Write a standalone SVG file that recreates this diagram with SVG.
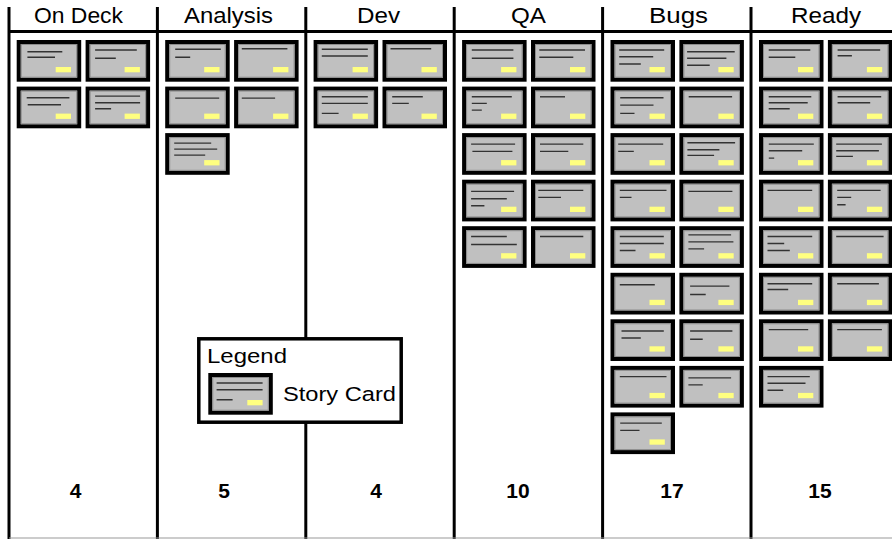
<svg xmlns="http://www.w3.org/2000/svg" xmlns:xlink="http://www.w3.org/1999/xlink" width="892" height="539" viewBox="0 0 892 539">
  <style>
    .rule { stroke: #000; stroke-width: 3; fill: none; }
    .head { font-family: "Liberation Sans", Arial, sans-serif; font-size: 21.5px; fill: #000; }
    .count { font-family: "Liberation Sans", Arial, sans-serif; font-size: 21px; font-weight: bold; fill: #000; text-anchor: middle; }
    .legend-text { font-family: "Liberation Sans", Arial, sans-serif; font-size: 20.5px; fill: #000; }
    .txt { stroke: #333; stroke-width: 1.4; fill: none; }
  </style>
  <defs>
    <!-- blank story card: black frame, grey face, yellow tag -->
    <g id="card-face">
      <rect x="2" y="2" width="60.5" height="37.7" fill="#c0c0c0" stroke="#000" stroke-width="4"/>
      <rect x="4.5" y="4.5" width="55.5" height="32.7" fill="#c0c0c0" stroke="#8c8c8c" stroke-width="1"/>
      <rect x="39" y="27" width="15.3" height="5.3" fill="#ffff80"/>
    </g>
  </defs>

  <rect width="892" height="539" fill="#fff"/>

  <!-- board columns -->
  <g id="board">
    <line class="rule" x1="8" y1="31.5" x2="892" y2="31.5"/>
    <line class="rule" x1="9" y1="7" x2="9" y2="539"/>
    <line class="rule" x1="157.4" y1="7" x2="157.4" y2="539"/>
    <line class="rule" x1="305.8" y1="7" x2="305.8" y2="539"/>
    <line class="rule" x1="454.2" y1="7" x2="454.2" y2="539"/>
    <line class="rule" x1="602.6" y1="7" x2="602.6" y2="539"/>
    <line class="rule" x1="751" y1="7" x2="751" y2="539"/>
    <line x1="9" y1="538" x2="892" y2="538" stroke="#999" stroke-width="1"/>
  </g>

  <g id="headers">
    <text class="head" x="34" y="23" textLength="89" lengthAdjust="spacingAndGlyphs">On Deck</text>
    <text class="head" x="184" y="23" textLength="89" lengthAdjust="spacingAndGlyphs">Analysis</text>
    <text class="head" x="357" y="23" textLength="43" lengthAdjust="spacingAndGlyphs">Dev</text>
    <text class="head" x="511" y="23" textLength="35" lengthAdjust="spacingAndGlyphs">QA</text>
    <text class="head" x="649" y="23" textLength="59" lengthAdjust="spacingAndGlyphs">Bugs</text>
    <text class="head" x="791" y="23" textLength="70" lengthAdjust="spacingAndGlyphs">Ready</text>
  </g>

  <g id="counts">
    <text class="count" x="75.5" y="498">4</text>
    <text class="count" x="224" y="498">5</text>
    <text class="count" x="376" y="498">4</text>
    <text class="count" x="518" y="498">10</text>
    <text class="count" x="672" y="498">17</text>
    <text class="count" x="820" y="498">15</text>
  </g>

  <!-- On Deck -->
  <g id="ondeck-1" transform="translate(16.7,40)"><use xlink:href="#card-face"/><path class="txt" d="M10.7 11.7H45.6M10.7 17.3H38.3"/></g>
  <g id="ondeck-2" transform="translate(85.6,40)"><use xlink:href="#card-face"/><path class="txt" d="M9.5 10H51.2M9.5 18.3H30.2"/></g>
  <g id="ondeck-3" transform="translate(16.7,86.6)"><use xlink:href="#card-face"/><path class="txt" d="M10 11.2H52.7M11 18.2H44.3"/></g>
  <g id="ondeck-4" transform="translate(85.6,86.6)"><use xlink:href="#card-face"/><path class="txt" d="M9.5 9.5H54.5M9.5 16.2H54.5M9.5 22.2H25.5"/></g>

  <!-- Analysis -->
  <g id="analysis-1" transform="translate(165.2,40)"><use xlink:href="#card-face"/><path class="txt" d="M10 9.3H55.6M10 17.3H25"/></g>
  <g id="analysis-2" transform="translate(234.1,40)"><use xlink:href="#card-face"/><path class="txt" d="M7.7 8.7H53.3"/></g>
  <g id="analysis-3" transform="translate(165.2,86.6)"><use xlink:href="#card-face"/><path class="txt" d="M10 11.5H54"/></g>
  <g id="analysis-4" transform="translate(234.1,86.6)"><use xlink:href="#card-face"/><path class="txt" d="M7.7 11.5H41"/></g>
  <g id="analysis-5" transform="translate(165.2,133.1)"><use xlink:href="#card-face"/><path class="txt" d="M9 10H46M9 16H52M9 22H40"/></g>

  <!-- Dev -->
  <g id="dev-1" transform="translate(313.6,40)"><use xlink:href="#card-face"/><path class="txt" d="M8.2 9.3H54.2M8.2 16H54.2"/></g>
  <g id="dev-2" transform="translate(382.5,40)"><use xlink:href="#card-face"/><path class="txt" d="M8 8.7H48.7"/></g>
  <g id="dev-3" transform="translate(313.6,86.6)"><use xlink:href="#card-face"/><path class="txt" d="M8.2 10.2H54.2M8.2 16.8H54.2M8.2 26.8H25"/></g>
  <g id="dev-4" transform="translate(382.5,86.6)"><use xlink:href="#card-face"/><path class="txt" d="M9.7 10.2H40.3M9.7 16.8H26.3"/></g>

  <!-- QA -->
  <g id="qa-1" transform="translate(462.1,40)"><use xlink:href="#card-face"/><path class="txt" d="M9.7 10H51.3M9.7 18.3H51.3"/></g>
  <g id="qa-2" transform="translate(531,40)"><use xlink:href="#card-face"/><path class="txt" d="M8.3 10H54M8.3 17.3H42.3"/></g>
  <g id="qa-3" transform="translate(462.1,86.6)"><use xlink:href="#card-face"/><path class="txt" d="M9.7 10.2H49.7M9.7 16.8H24.7M9.7 23.5H19.7"/></g>
  <g id="qa-4" transform="translate(531,86.6)"><use xlink:href="#card-face"/><path class="txt" d="M9 10.2H34"/></g>
  <g id="qa-5" transform="translate(462.1,133.1)"><use xlink:href="#card-face"/><path class="txt" d="M9 11H53M10.3 18.3H50.3"/></g>
  <g id="qa-6" transform="translate(531,133.1)"><use xlink:href="#card-face"/><path class="txt" d="M9 11H52.3M9 18.3H37.3"/></g>
  <g id="qa-7" transform="translate(462.1,179.7)"><use xlink:href="#card-face"/><path class="txt" d="M9 11.7H52M9 19H44.7M9 26H22.3"/></g>
  <g id="qa-8" transform="translate(531,179.7)"><use xlink:href="#card-face"/><path class="txt" d="M7.3 10.7H52.3M7.3 17.7H30"/></g>
  <g id="qa-9" transform="translate(462.1,226.2)"><use xlink:href="#card-face"/><path class="txt" d="M9 10.3H44.7M9 18.3H54.7"/></g>
  <g id="qa-10" transform="translate(531,226.2)"><use xlink:href="#card-face"/><path class="txt" d="M9 10.3H52.3"/></g>

  <!-- Bugs -->
  <g id="bugs-1" transform="translate(610.5,40)"><use xlink:href="#card-face"/><path class="txt" d="M8.7 10H53.7M8.7 16.7H42.7M8.7 24H30.3"/></g>
  <g id="bugs-2" transform="translate(679.4,40)"><use xlink:href="#card-face"/><path class="txt" d="M7.7 11.7H55.3M7.7 18.3H47M7.7 25.3H30.3"/></g>
  <g id="bugs-3" transform="translate(610.5,86.6)"><use xlink:href="#card-face"/><path class="txt" d="M9.7 11.2H53M9.7 18.5H43M9.7 26.8H24"/></g>
  <g id="bugs-4" transform="translate(679.4,86.6)"><use xlink:href="#card-face"/><path class="txt" d="M9.3 10.2H52.7"/></g>
  <g id="bugs-5" transform="translate(610.5,133.1)"><use xlink:href="#card-face"/><path class="txt" d="M7.7 11H52.7M7.7 18.3H23.3"/></g>
  <g id="bugs-6" transform="translate(679.4,133.1)"><use xlink:href="#card-face"/><path class="txt" d="M8 9.7H55.7M8 16.7H40M8 22.3H34.7"/></g>
  <g id="bugs-7" transform="translate(610.5,179.7)"><use xlink:href="#card-face"/><path class="txt" d="M9.3 10.7H56M9.3 17.7H21"/></g>
  <g id="bugs-8" transform="translate(679.4,179.7)"><use xlink:href="#card-face"/><path class="txt" d="M9 11.7H53"/></g>
  <g id="bugs-9" transform="translate(610.5,226.2)"><use xlink:href="#card-face"/><path class="txt" d="M9.3 10.3H53.3M9.3 17.3H53.3M9.3 24.3H25"/></g>
  <g id="bugs-10" transform="translate(679.4,226.2)"><use xlink:href="#card-face"/><path class="txt" d="M9 8.7H51.7M9 15.7H54M9 22.7H24.7"/></g>
  <g id="bugs-11" transform="translate(610.5,272.8)"><use xlink:href="#card-face"/><path class="txt" d="M9.3 12H44.3"/></g>
  <g id="bugs-12" transform="translate(679.4,272.8)"><use xlink:href="#card-face"/><path class="txt" d="M10.7 13.3H50M10.7 21.7H26.3"/></g>
  <g id="bugs-13" transform="translate(610.5,319.3)"><use xlink:href="#card-face"/><path class="txt" d="M11 11.7H53.3M11 18.7H30.3"/></g>
  <g id="bugs-14" transform="translate(679.4,319.3)"><use xlink:href="#card-face"/><path class="txt" d="M10.7 11.7H53M10.7 20H23.3"/></g>
  <g id="bugs-15" transform="translate(610.5,365.9)"><use xlink:href="#card-face"/><path class="txt" d="M9.3 10.7H56"/></g>
  <g id="bugs-16" transform="translate(679.4,365.9)"><use xlink:href="#card-face"/><path class="txt" d="M9 12H51.7M9 19H23.3"/></g>
  <g id="bugs-17" transform="translate(610.5,412.4)"><use xlink:href="#card-face"/><path class="txt" d="M9.7 10.7H51.3M9.7 18H29"/></g>

  <!-- Ready -->
  <g id="ready-1" transform="translate(759,40)"><use xlink:href="#card-face"/><path class="txt" d="M9.7 10H51.3M9.7 17.3H36.3"/></g>
  <g id="ready-2" transform="translate(827.9,40)"><use xlink:href="#card-face"/><path class="txt" d="M9.7 10H52.3M9.7 15.7H24"/></g>
  <g id="ready-3" transform="translate(759,86.6)"><use xlink:href="#card-face"/><path class="txt" d="M9.7 10.2H52.3M9.7 16.2H48.7M9.7 22.2H30.7"/></g>
  <g id="ready-4" transform="translate(827.9,86.6)"><use xlink:href="#card-face"/><path class="txt" d="M9.7 10.2H53.3M9.7 16.2H42.3"/></g>
  <g id="ready-5" transform="translate(759,133.1)"><use xlink:href="#card-face"/><path class="txt" d="M9.8 11H54.8M9.8 17.7H43.2M9.8 25H15.2"/></g>
  <g id="ready-6" transform="translate(827.9,133.1)"><use xlink:href="#card-face"/><path class="txt" d="M8.3 11H54M8.3 17.7H51M8.3 23.3H25"/></g>
  <g id="ready-7" transform="translate(759,179.7)"><use xlink:href="#card-face"/><path class="txt" d="M8.5 10.7H53.2"/></g>
  <g id="ready-8" transform="translate(827.9,179.7)"><use xlink:href="#card-face"/><path class="txt" d="M9.3 10.7H52.7M9.3 17.7H23.3M9.3 25H17.7"/></g>
  <g id="ready-9" transform="translate(759,226.2)"><use xlink:href="#card-face"/><path class="txt" d="M8.5 10.3H53.2M8.5 17.3H25.2M8.5 24.3H30.8"/></g>
  <g id="ready-10" transform="translate(827.9,226.2)"><use xlink:href="#card-face"/><path class="txt" d="M8.3 10.3H55.7"/></g>
  <g id="ready-11" transform="translate(759,272.8)"><use xlink:href="#card-face"/><path class="txt" d="M8.5 11H53.2M8.5 16.7H29.2"/></g>
  <g id="ready-12" transform="translate(827.9,272.8)"><use xlink:href="#card-face"/><path class="txt" d="M9.3 11H51"/></g>
  <g id="ready-13" transform="translate(759,319.3)"><use xlink:href="#card-face"/><path class="txt" d="M9.8 10.3H49.2"/></g>
  <g id="ready-14" transform="translate(827.9,319.3)"><use xlink:href="#card-face"/><path class="txt" d="M9.3 10.3H54"/></g>
  <g id="ready-15" transform="translate(759,365.9)"><use xlink:href="#card-face"/><path class="txt" d="M8.5 10.7H50.8M8.5 17.3H46.5M8.5 24.3H24.2"/></g>

  <!-- legend box -->
  <g id="legend">
    <rect x="198.8" y="338.8" width="202.4" height="83.4" fill="#fff" stroke="#000" stroke-width="3.5"/>
    <text class="legend-text" x="207" y="363" textLength="80" lengthAdjust="spacingAndGlyphs">Legend</text>
    <g id="legend-card" transform="translate(208.3,373)"><use xlink:href="#card-face"/><path class="txt" d="M8.3 10H54.3M8.3 16.7H54.3M8.3 26.7H24.3"/></g>
    <text class="legend-text" x="283" y="401" textLength="113" lengthAdjust="spacingAndGlyphs">Story Card</text>
  </g>

  <!-- connectors: none on this board -->
  <g id="connectors"/>
</svg>
